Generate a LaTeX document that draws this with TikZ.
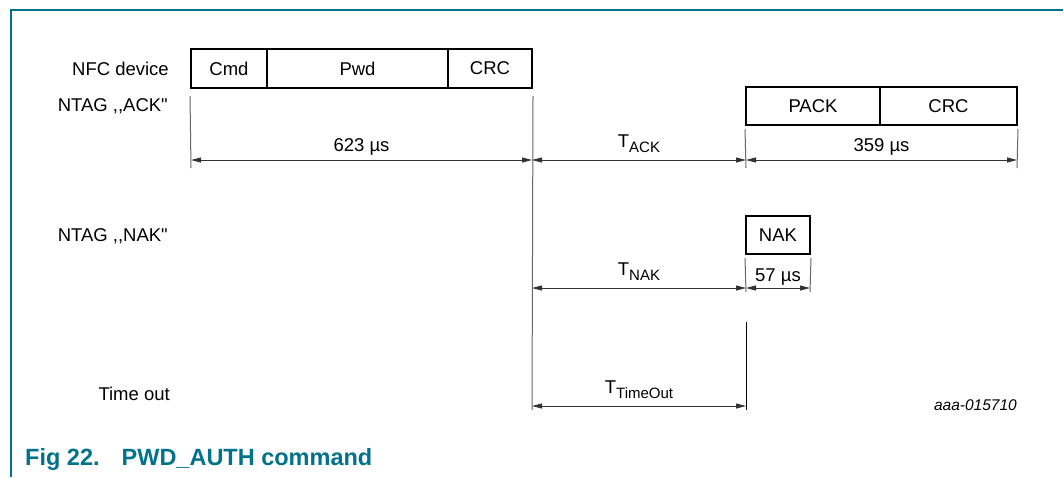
\documentclass[tikz,border=0pt]{standalone}
\usepackage{fontspec}
\setmainfont{Liberation Sans}
\newfontfamily\rawfont{Liberation Sans}
\usetikzlibrary{arrows.meta}
\definecolor{nxpteal}{RGB}{0,114,139}
\tikzset{
  field/.style={draw, line width=2pt, minimum height=38pt, inner sep=0pt, font=\fontsize{18.5}{18.5}\selectfont},
  dimline/.style={draw=black!80, line width=0.9pt, {Triangle[length=10pt,width=5pt]}-{Triangle[length=10pt,width=5pt]}},
  extline/.style={draw=black!60, line width=1pt},
  rowlabel/.style={anchor=east, inner sep=0pt, font=\fontsize{18.5}{18.5}\selectfont},
  dimlabel/.style={above, inner sep=4pt, font=\fontsize{18.5}{18.5}\selectfont}
}
\newcommand{\tsub}[1]{T\raisebox{-5pt}{\fontsize{15}{15}\selectfont #1}}
\newcommand{\ntag}[1]{NTAG {\rawfont,,}#1{\rawfont"}}

\begin{document}
\begin{tikzpicture}[x=1pt, y=-1pt]
  \useasboundingbox (0,0) rectangle (1064,477);
  % frame
  \draw[nxpteal, line width=1.4pt] (11,477) -- (11,10) -- (1063,10);

  % row labels
  \node[rowlabel] (nfc) at (169,69) {NFC device};
  \node[rowlabel] (ack) at (168,106) {\ntag{ACK}};
  \node[rowlabel] (nakl) at (168,236) {\ntag{NAK}};
  \node[rowlabel] (tout) at (170,394) {Time out};

  % frames
  \node[field, minimum width=76pt, minimum height=39pt] (cmd) at (229,68.5) {Cmd};
  \node[field, minimum width=181pt, minimum height=39pt] (pwd) at (357.5,68.5) {Pwd};
  \node[field, minimum width=84pt, minimum height=39pt] (crc) at (490,68.5) {CRC};
  \node[field, minimum width=134pt] (pack) at (813,106) {PACK};
  \node[field, minimum width=137pt] (crcb) at (948.5,106) {CRC};
  \node[field, minimum width=64pt] (nak) at (778,235) {NAK};

  % dimension ends
  \coordinate (d1) at (191,160);
  \coordinate (d2) at (532,160);
  \coordinate (d3) at (746,160);
  \coordinate (d4) at (1017,160);
  \coordinate (n1) at (532,288);
  \coordinate (n2) at (746,288);
  \coordinate (n3) at (810,288);
  \coordinate (o1) at (532,406);
  \coordinate (o2) at (746,406);
  \coordinate (otop) at (746,322);

  % extension lines
  \draw[extline] ([yshift=-7pt]cmd.south west) -- ([yshift=-8pt]d1);
  \draw[extline] ([yshift=-7pt]crc.south east) -- ([yshift=-4pt]o1);
  \draw[extline] ([yshift=-3pt]pack.south west) -- ([yshift=-8pt]d3);
  \draw[extline] ([yshift=-3pt]crcb.south east) -- ([yshift=-8pt]d4);
  \draw[extline] ([yshift=-3pt]nak.south west) -- ([yshift=-4pt]n2);
  \draw[extline] ([yshift=-3pt]nak.south east) -- ([yshift=-4pt]n3);
  \draw[extline, draw=black] (otop) -- ([yshift=-4pt]o2);

  % dimensions
  \draw[dimline] (d1) -- node[dimlabel] {623 µs} (d2);
  \draw[dimline] (d2) -- node[dimlabel, yshift=3pt] {\tsub{ACK}} (d3);
  \draw[dimline] (d3) -- node[dimlabel] {359 µs} (d4);
  \draw[dimline] (n1) -- node[dimlabel, yshift=3pt] {\tsub{NAK}} (n2);
  \draw[dimline] (n2) -- node[dimlabel, inner sep=2pt] {57 µs} (n3);
  \draw[dimline] (o1) -- node[dimlabel, yshift=3pt] {\tsub{TimeOut}} (o2);

  \node[anchor=east, inner sep=0pt, font=\itshape\fontsize{15.5}{15.5}\selectfont] (code) at (1017,405) {aaa-015710};
  \node[anchor=base west, inner sep=0pt, text=nxpteal, font=\bfseries\fontsize{23.5}{23.5}\selectfont] (cap) at (25,465) {Fig 22.\hspace{22pt}PWD\_AUTH command};
\end{tikzpicture}
\end{document}
